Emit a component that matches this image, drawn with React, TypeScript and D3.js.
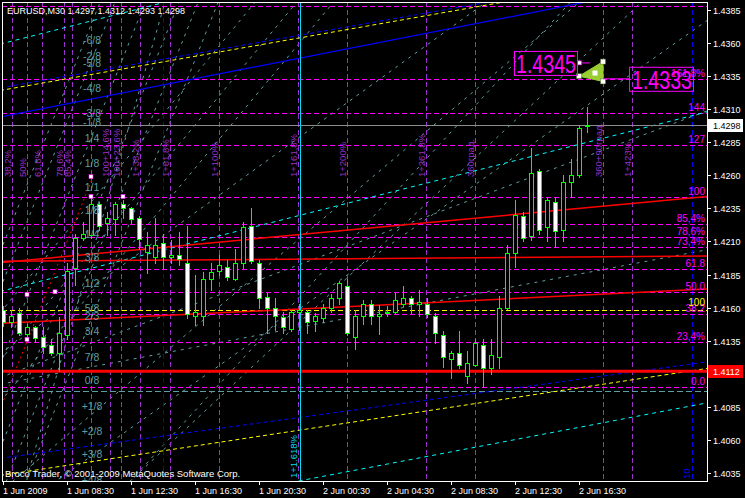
import React from "react";
import * as d3 from "d3";

const W = 745;
const H = 498;
const L = 2, T = 2, R = 707, B = 481;

const headerText = "EURUSD,M30  1.4297 1.4312 1.4293 1.4298";
const copyright = "Broco Trader, \u00a9 2001-2009 MetaQuotes Software Corp.";

// M30 bars, 1 Jun 2009 04:30 .. 2 Jun 2009 17:00
const opens = [1.4158,1.4149,1.4156,1.4140,1.4145,1.4138,1.4132,1.4126,1.4139,1.4190,
1.4213,1.4215,1.4238,1.4224,1.4227,1.4238,1.4235,1.4228,1.4202,1.4198,
1.4209,1.4198,1.4200,1.4194,1.4154,1.4154,1.4182,1.4188,1.4191,1.4182,
1.4194,1.4222,1.4194,1.4168,1.4160,1.4153,1.4144,1.4157,1.4157,1.4150,
1.4152,1.4160,1.4167,1.4176,1.4138,1.4154,1.4163,1.4154,1.4156,1.4157,
1.4163,1.4167,1.4163,1.4163,1.4154,1.4139,1.4121,1.4126,1.4108,1.4117,
1.4132,1.4114,1.4123,1.4160,1.4201,1.4229,1.4214,1.4263,1.4221,1.4240,
1.4219,1.4255,1.4260,1.4297];
const highs = [1.4161,1.4158,1.4160,1.4148,1.4146,1.4145,1.4136,1.4153,1.4194,1.4216,
1.4225,1.4244,1.4240,1.4232,1.4240,1.4241,1.4236,1.4229,1.4217,1.4228,
1.4216,1.4211,1.4217,1.4222,1.4185,1.4187,1.4194,1.4200,1.4196,1.4204,
1.4225,1.4235,1.4196,1.4171,1.4167,1.4157,1.4158,1.4163,1.4158,1.4156,
1.4163,1.4170,1.4180,1.4182,1.4158,1.4166,1.4166,1.4162,1.4161,1.4171,
1.4176,1.4169,1.4173,1.4167,1.4156,1.4142,1.4127,1.4142,1.4127,1.4136,
1.4136,1.4136,1.4169,1.4207,1.4241,1.4232,1.4281,1.4265,1.4244,1.4244,
1.4260,1.4272,1.4297,1.4312];
const lows = [1.4146,1.4145,1.4139,1.4136,1.4134,1.4126,1.4124,1.4112,1.4136,1.4177,
1.4211,1.4213,1.4219,1.4215,1.4215,1.4228,1.4224,1.4204,1.4186,1.4194,
1.4190,1.4194,1.4192,1.4152,1.4147,1.4147,1.4173,1.4185,1.4181,1.4181,
1.4190,1.4194,1.4160,1.4141,1.4143,1.4141,1.4142,1.4143,1.4141,1.4142,
1.4149,1.4157,1.4163,1.4139,1.4129,1.4148,1.4148,1.4140,1.4154,1.4156,
1.4161,1.4156,1.4154,1.4153,1.4133,1.4115,1.4107,1.4114,1.4103,1.4116,
1.4100,1.4110,1.4114,1.4159,1.4191,1.4210,1.4211,1.4216,1.4210,1.4206,
1.4210,1.4244,1.4259,1.4293];
const closes = [1.4149,1.4154,1.4141,1.4145,1.4137,1.4130,1.4126,1.4141,1.4188,1.4213,
1.4216,1.4238,1.4222,1.4228,1.4238,1.4235,1.4227,1.4212,1.4207,1.4207,
1.4198,1.4200,1.4197,1.4155,1.4157,1.4182,1.4187,1.4192,1.4183,1.4194,
1.4221,1.4195,1.4167,1.4160,1.4154,1.4145,1.4157,1.4158,1.4149,1.4154,
1.4160,1.4167,1.4179,1.4141,1.4154,1.4163,1.4154,1.4155,1.4157,1.4166,
1.4167,1.4163,1.4164,1.4155,1.4141,1.4123,1.4126,1.4117,1.4118,1.4133,
1.4114,1.4124,1.4160,1.4201,1.4230,1.4213,1.4262,1.4219,1.4241,1.4218,
1.4255,1.4260,1.4296,1.4298];

const timeLabelBars = [0, 8, 16, 24, 32, 40, 48, 56, 64, 72];
const timeLabels = ["1 Jun 2009", "1 Jun 08:30", "1 Jun 12:30", "1 Jun 16:30", "1 Jun 20:30",
  "2 Jun 00:30", "2 Jun 04:30", "2 Jun 08:30", "2 Jun 12:30", "2 Jun 16:30"];
const priceTicks = [1.4385, 1.4360, 1.4335, 1.4310, 1.4285, 1.4260, 1.4235, 1.4210, 1.4185,
  1.4160, 1.4135, 1.4085, 1.4060, 1.4035];

const bidPrice = 1.4298;
const supportPrice = 1.4112;

// Fibonacci retracement from the 1 Jun high to the 2 Jun low
const fibLow = 1.4100;
const fibHigh = 1.4244;
const fibRatios = [0, 0.234, 0.382, 0.5, 0.618, 0.734, 0.786, 0.854, 1, 1.27, 1.44, 1.618, 2];
const fibNames = ["0.0", "23,4%", "38.2", "50.0", "61.8", "73,4%", "78,6%", "85,4%", "100", "127", "144", "161,8%", ""];

const pivotLevel = 1.4158;
const pivotName = "100";

// Fibonacci time zones
const zoneStart = -5;
const zoneSpan = 16;
const zoneRatios = [0.382, 0.5, 0.618, 0.786, 0.854, 1, 1.146, 1.236, 1.382, 1.618, 2, 2.618, 3, 3.618, 4, 5, 5.23];
const zoneNames = ["38,2%", "50%", "61,8%", "78,6%", "85,4%", "", "100+14,6%", "100+23,6%", "1+38,2%",
  "1+61,8%", "1+100%", "1+161,8%", "1+200%", "1+261,8%", "360\u0433\u0440\u0430\u0434.", "360+90\u0433\u0440\u0430\u0434.", "1+423%"];

const cyanMarkerBar = 37.1;
const cyanMarkerName = "1+1.618%";
const blueMarkerBars = [20, 86.1];
const blueMarkerName = "10";

// trend channels: [bar1, price1, bar2, price2]
const redLines = [
  [-0.5, 1.4194, 88, 1.4244],
  [-0.5, 1.4195, 88, 1.4199],
  [-0.5, 1.4148, 88, 1.4174],
];
const cyanLines = [
  [-0.5, 1.4172, 88, 1.4308],
  [-0.5, 1.4359, 88, 1.4495],
  [37, 1.4029, 88, 1.4088],
];
const blueSolid = [-0.5, 1.4304, 88, 1.4409];
const blueDashed = [
  [-0.5, 1.4326, 88, 1.4420],
  [-0.5, 1.4046, 88, 1.4119],
];
const yellowDashed = [
  [-0.5, 1.4324, 88, 1.4418],
  [-0.5, 1.4033, 88, 1.4114],
];
const zigzag = [-0.4, 1.4083, 11.25, 1.4259];
const fractalBars = [11, 11, 15, 3, 3, 6.5];
const fractalPrices = [1.4259, 1.4244, 1.4244, 1.4170, 1.4136, 1.4172];

// Gann angles: [bar1, price1, bar2, price2]
const gannLines = [
  [30, 1.4176, 54.25, 1.4300],
  [30, 1.4258, 39.6, 1.4300],
  [43.4, 1.4207, 60.5, 1.4246],
  [30, 1.4137, 83, 1.4198],
  [28.4, 1.4368, 31.25, 1.4389],
  [32.5, 1.4327, 40.5, 1.4385],
  [25.5, 1.4309, 35.9, 1.4385],
  [57.1, 1.4300, 65, 1.4352],
  [63.75, 1.4300, 78.4, 1.4383],
  [70, 1.4300, 85.9, 1.4368],
  [15.6, 1.4294, 19.25, 1.4370],
];
// steep angles crossing the top of the window
const steepTopBars = [11.75, 13.6, 17.4, 21.6, 24, 26.5];
const steepBottomBars = [1.75, 3.6, 7.4, 11.6, 14, 16.5];
const steepTop = 1.4385;
const steepBottom = 1.4234;
const horizonLevel = 1.4097;

// Murrey octave labels
const murreyPrices = [1.4362, 1.4350, 1.4345, 1.4326, 1.4307, 1.4300, 1.4288, 1.4269, 1.4251, 1.4234,
  1.4216, 1.4198, 1.4179, 1.4160, 1.4154, 1.4142, 1.4123, 1.4105, 1.4086, 1.4067, 1.4049, 1.4030];
const murreyNames = ["-6/8", "-2/8", "-5/8", "-4/8", "-3/8", "-1/8", "1/4", "1/8", "1/1", "1/8",
  "1/4", "3/8", "1/2", "5/8", "2/3", "3/4", "7/8", "0/8", "+1/8", "+2/8", "+3/8", "+4/8"];

// target triangle and price labels
const triBars = [72, 75, 75];
const triPrices = [1.4335, 1.4346, 1.4331];
const targetHigh = 1.4345;
const targetLow = 1.4333;

const FONT = "'Liberation Sans', Arial, sans-serif";

export default function App() {
  const x = d3.scaleLinear().domain([0, 73]).range([3, 587]);
  const y = d3.scaleLinear().domain([1.4035, 1.4385]).range([473, 10]);
  const fibPrice = (r: number) => fibLow + (fibHigh - fibLow) * r;

  const ext = (s: number[]) => {
    const x1 = x(s[0]), y1 = y(s[1]), x2 = x(s[2]), y2 = y(s[3]);
    const k = (y2 - y1) / (x2 - x1);
    return { x1: L - 2, y1: y1 + k * (L - 2 - x1), x2: R + 2, y2: y1 + k * (R + 2 - x1) };
  };
  const seg = (s: number[]) => ({ x1: x(s[0]), y1: y(s[1]), x2: x(s[2]), y2: y(s[3]) });

  const zoneX = zoneRatios.map((r) => Math.round(x(zoneStart + zoneSpan * r)));
  const steepLines = steepTopBars.map((b, k) => [steepBottomBars[k], steepBottom, b, steepTop]);

  return (
    <svg width={W} height={H} style={{ position: "absolute", left: 0, top: 0, background: "#000" }}
      fontFamily={FONT}>
      <defs>
        <clipPath id="plot"><rect x={L} y={T} width={R - L} height={B - T} /></clipPath>
      </defs>
      <rect x={0} y={0} width={W} height={H} fill="#000" />
      <g clipPath="url(#plot)">
        {/* Gann angle lines */}
        {gannLines.concat(steepLines).map((s, k) => {
          const e = ext(s);
          return <line key={"g" + k} {...e} stroke="#5F9EA0" strokeWidth={1} strokeDasharray="3,5" />;
        })}
        <line x1={L} x2={R} y1={Math.round(y(horizonLevel)) + 0.5} y2={Math.round(y(horizonLevel)) + 0.5}
          stroke="#5F9EA0" strokeDasharray="6,3" />

        {/* Fibonacci time zones */}
        {zoneX.map((zx, k) => (
          <line key={"z" + k} x1={zx + 0.5} x2={zx + 0.5} y1={T} y2={B} stroke="#9932CC" strokeDasharray="5,3" />
        ))}
        {blueMarkerBars.map((b, k) => (
          <line key={"bm" + k} x1={Math.round(x(b)) + 0.5} x2={Math.round(x(b)) + 0.5} y1={T} y2={B}
            stroke="#0000FF" strokeDasharray="5,3" />
        ))}

        {/* Fibonacci retracement */}
        {fibRatios.map((r, k) => {
          const yy = Math.round(y(fibPrice(r))) + 0.5;
          return <line key={"f" + k} x1={L} x2={R} y1={yy} y2={yy} stroke="#FF00FF" strokeDasharray="5,3" />;
        })}
        <line x1={L} x2={R} y1={Math.round(y(pivotLevel)) + 0.5} y2={Math.round(y(pivotLevel)) + 0.5}
          stroke="#FFFF00" strokeDasharray="5,3" />

        {/* channels */}
        {cyanLines.map((s, k) => <line key={"c" + k} {...ext(s)} stroke="#00FFFF" strokeDasharray="4,4" />)}
        <line {...ext(blueSolid)} stroke="#0000FF" strokeWidth={1.2} />
        {blueDashed.map((s, k) => <line key={"bd" + k} {...ext(s)} stroke="#0000FF" strokeDasharray="4,3" />)}
        {yellowDashed.map((s, k) => <line key={"yd" + k} {...ext(s)} stroke="#FFFF00" strokeDasharray="4,3" />)}
        {redLines.map((s, k) => <line key={"r" + k} {...ext(s)} stroke="#FF0000" strokeWidth={1.5} />)}
        <line {...seg(zigzag)} stroke="#FF0000" strokeDasharray="2,3" />

        <line x1={L} x2={R} y1={y(supportPrice)} y2={y(supportPrice)} stroke="#FF0000" strokeWidth={3} />
        <line x1={L} x2={R} y1={Math.round(y(bidPrice)) + 0.5} y2={Math.round(y(bidPrice)) + 0.5}
          stroke="#8C8C8C" />

        <line x1={Math.round(x(cyanMarkerBar)) + 0.5} x2={Math.round(x(cyanMarkerBar)) + 0.5} y1={T} y2={B}
          stroke="#00DDEE" strokeWidth={1} />

        {/* candles */}
        {opens.map((o, i) => {
          const cx = Math.round(x(i));
          const c = closes[i];
          const top = Math.round(y(Math.max(o, c)));
          const bot = Math.round(y(Math.min(o, c)));
          return (
            <g key={"k" + i} shapeRendering="crispEdges">
              <line x1={cx + 0.5} x2={cx + 0.5} y1={Math.round(y(highs[i]))} y2={Math.round(y(lows[i])) + 1}
                stroke="#00FF00" />
              <rect x={cx - 1.5} y={top + 0.5} width={4} height={Math.max(bot - top, 1)}
                fill={c >= o ? "#000" : "#FFF"} stroke="#00FF00" />
            </g>
          );
        })}

        {fractalBars.map((b, k) => (
          <rect key={"fr" + k} x={x(b) - 2} y={y(fractalPrices[k]) - 2} width={4} height={4} fill="#FFF"
            stroke="#FF00FF" strokeWidth={0.6} />
        ))}

        {/* time zone labels */}
        {zoneX.map((zx, k) => (
          <text key={"zt" + k} transform={`translate(${zx - 1.5},177) rotate(-90)`} fontSize={9.5}
            fill="#9932CC">{zoneNames[k]}</text>
        ))}
        <text transform={`translate(${Math.round(x(cyanMarkerBar)) - 3},478) rotate(-90)`} fontSize={9.5}
          fill="#00DDEE">{cyanMarkerName}</text>
        <text transform={`translate(${Math.round(x(blueMarkerBars[1])) - 2},479) rotate(-90)`} fontSize={9.5}
          fill="#0000FF">{blueMarkerName}</text>

        {/* Murrey labels */}
        {murreyPrices.map((p, k) => (
          <text key={"m" + k} x={92} y={y(p) + 4} fontSize={10.5} fill="#5F9EA0" textAnchor="middle">
            {murreyNames[k]}</text>
        ))}

        {/* Fibonacci level labels */}
        {fibRatios.map((r, k) => (
          <text key={"ft" + k} x={705} y={Math.round(y(fibPrice(r))) - 2} fontSize={10} fill="#FF00FF"
            textAnchor="end">{fibNames[k]}</text>
        ))}
        <text x={705} y={Math.round(y(pivotLevel)) - 4} fontSize={10} fill="#FFFF00" textAnchor="end">{pivotName}</text>

        {/* target triangle */}
        <polygon points={triBars.map((b, k) => `${x(b)},${y(triPrices[k])}`).join(" ")} fill="#9ACD32"
          stroke="#9ACD32" />
        {triBars.map((b, k) => (
          <rect key={"tv" + k} x={x(b) - 2.5} y={y(triPrices[k]) - 2.5} width={5} height={5} fill="#FFF"
            stroke="#556B2F" strokeWidth={0.5} />
        ))}
        <rect x={d3.mean(triBars.map((b) => x(b)))! - 2.5} y={d3.mean(triPrices.map((p) => y(p)))! - 2.5}
          width={5} height={5} fill="#FFF" />
        <line x1={x(72)} x2={x(73.4)} y1={y(targetHigh)} y2={y(targetHigh)} stroke="#FF00FF" />
        <rect x={x(72) - 1.5} y={y(targetHigh) - 2} width={4} height={4} fill="#FFF" stroke="#FF00FF" strokeWidth={0.6} />
        <rect x={514.5} y={y(targetHigh) - 11.5} width={63} height={24} fill="none" stroke="#FF00FF" />
        <text x={516} y={y(targetHigh) + 10} fontSize={25} fill="#FF00FF" textLength={60}
          lengthAdjust="spacingAndGlyphs">{targetHigh.toFixed(4)}</text>
        <line x1={x(75)} x2={629} y1={y(targetLow)} y2={y(targetLow)} stroke="#FF00FF" />
        <rect x={629.5} y={y(targetLow) - 11.5} width={64} height={24} fill="none" stroke="#FF00FF" />
        <text x={632} y={y(targetLow) + 10} fontSize={25} fill="#FF00FF" textLength={60}
          lengthAdjust="spacingAndGlyphs">{targetLow.toFixed(4)}</text>

        <text x={7} y={14} fontSize={9} fill="#FFF">{headerText}</text>
        <text x={5} y={477} fontSize={9.5} fill="#FFF">{copyright}</text>
      </g>

      {/* frame */}
      <rect x={L + 0.5} y={T + 0.5} width={R - L} height={B - T} fill="none" stroke="#FFF" shapeRendering="crispEdges" />

      {/* price axis */}
      {priceTicks.map((p) => {
        const yy = Math.round(y(p)) + 0.5;
        return (
          <g key={"pt" + p}>
            <line x1={R + 1} x2={R + 4} y1={yy} y2={yy} stroke="#FFF" />
            <text x={713} y={yy + 3.5} fontSize={9} fill="#FFF">{p.toFixed(4)}</text>
          </g>
        );
      })}
      <rect x={708} y={Math.round(y(bidPrice)) - 6} width={35} height={13} fill="#FFF" />
      <text x={713} y={Math.round(y(bidPrice)) + 4} fontSize={9} fill="#000">{bidPrice.toFixed(4)}</text>
      <rect x={708} y={Math.round(y(supportPrice)) - 6} width={35} height={13} fill="#FF0000" />
      <text x={713} y={Math.round(y(supportPrice)) + 4} fontSize={9} fill="#FFF">{supportPrice.toFixed(4)}</text>

      {/* time axis */}
      {timeLabelBars.map((b, k) => {
        const xx = Math.round(x(b)) + 0.5;
        return (
          <g key={"tl" + b}>
            <line x1={xx} x2={xx} y1={B + 1} y2={B + 4} stroke="#FFF" />
            <text x={xx - 0.5} y={494} fontSize={9} fill="#FFF">{timeLabels[k]}</text>
          </g>
        );
      })}
    </svg>
  );
}
